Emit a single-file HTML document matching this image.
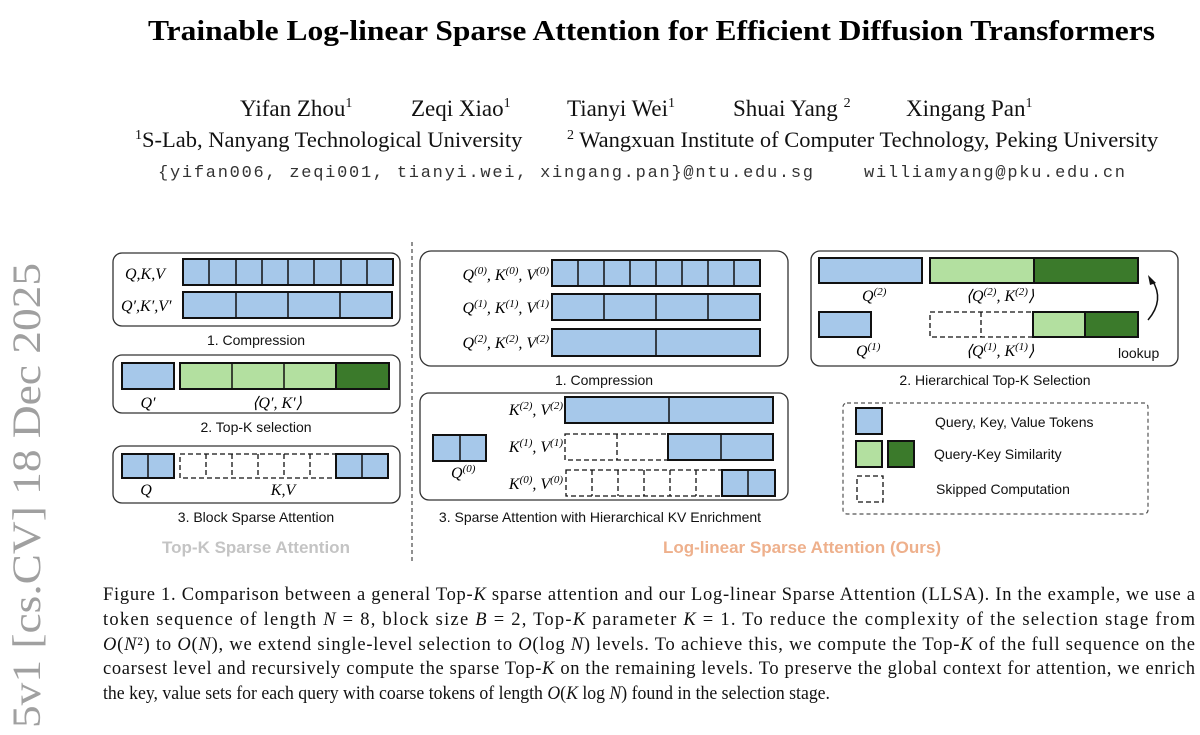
<!DOCTYPE html>
<html><head><meta charset="utf-8"><style>
html,body{margin:0;padding:0;background:#fff;width:1200px;height:735px;overflow:hidden}
svg{display:block}
.s{font-family:"Liberation Serif",serif}
.m{font-family:"Liberation Serif",serif;font-style:italic;font-size:16px}
.a{font-family:"Liberation Sans",sans-serif;font-size:14px;fill:#111}
.b{fill:#a6c8ea;stroke:#111;stroke-width:2}
.d{fill:none;stroke:#111;stroke-width:1.3;stroke-dasharray:5,3}
.l{stroke:#111;stroke-width:1.5}
.bx{fill:#fff;stroke:#333;stroke-width:1.3}
</style></head><body>
<svg width="1200" height="735" viewBox="0 0 1200 735" xmlns="http://www.w3.org/2000/svg">
<text class="s" x="148" y="40" font-size="29" font-weight="bold" textLength="1007" lengthAdjust="spacingAndGlyphs">Trainable Log-linear Sparse Attention for Efficient Diffusion Transformers</text>
<g class="s" font-size="23" fill="#111">
<text x="240" y="116">Yifan Zhou<tspan font-size="14" dy="-9">1</tspan></text>
<text x="411" y="116">Zeqi Xiao<tspan font-size="14" dy="-9">1</tspan></text>
<text x="567" y="116">Tianyi Wei<tspan font-size="14" dy="-9">1</tspan></text>
<text x="733" y="116">Shuai Yang <tspan font-size="14" dy="-9">2</tspan></text>
<text x="906" y="116">Xingang Pan<tspan font-size="14" dy="-9">1</tspan></text>
</g>
<g class="s" font-size="22.5" fill="#111">
<text x="135" y="147"><tspan font-size="14" dy="-8">1</tspan><tspan dy="8">S-Lab, Nanyang Technological University</tspan></text>
<text x="567" y="147"><tspan font-size="14" dy="-8">2</tspan><tspan dy="8"> Wangxuan Institute of Computer Technology, Peking University</tspan></text>
</g>
<g font-family="Liberation Mono,monospace" font-size="17" fill="#333">
<text x="158" y="177" textLength="655">{yifan006, zeqi001, tianyi.wei, xingang.pan}@ntu.edu.sg</text>
<text x="864" y="177" textLength="261">williamyang@pku.edu.cn</text>
</g>
<text class="s" transform="translate(40,728) rotate(-90)" font-size="40" fill="#a0a0a0" textLength="465" lengthAdjust="spacingAndGlyphs">5v1  [cs.CV]  18 Dec 2025</text>

<line x1="412" y1="242" x2="412" y2="562" stroke="#555" stroke-width="1.3" stroke-dasharray="4,3"/>

<rect class="bx" x="113" y="253" width="287" height="73" rx="9"/>
<text class="m" x="125" y="279">Q,K,V</text>
<rect class="b" x="183" y="259" width="210" height="26"/>
<g class="l"><line x1="209" y1="259" x2="209" y2="285"/><line x1="236" y1="259" x2="236" y2="285"/><line x1="262" y1="259" x2="262" y2="285"/><line x1="288" y1="259" x2="288" y2="285"/><line x1="314" y1="259" x2="314" y2="285"/><line x1="341" y1="259" x2="341" y2="285"/><line x1="367" y1="259" x2="367" y2="285"/></g>
<text class="m" x="121" y="311">Q′,K′,V′</text>
<rect class="b" x="183" y="292" width="209" height="26"/>
<g class="l"><line x1="236" y1="292" x2="236" y2="318"/><line x1="288" y1="292" x2="288" y2="318"/><line x1="340" y1="292" x2="340" y2="318"/></g>
<text class="a" x="256" y="345" text-anchor="middle">1. Compression</text>

<rect class="bx" x="113" y="355" width="287" height="58" rx="9"/>
<rect class="b" x="122" y="363" width="52" height="26"/>
<rect x="180" y="363" width="156" height="26" fill="#b3e0a0" stroke="#111" stroke-width="2"/>
<rect x="336" y="363" width="53" height="26" fill="#3b7a2b" stroke="#111" stroke-width="2"/>
<g class="l"><line x1="232" y1="363" x2="232" y2="389"/><line x1="284" y1="363" x2="284" y2="389"/></g>
<text class="m" x="148" y="408" text-anchor="middle">Q′</text>
<text class="m" x="277" y="408" text-anchor="middle">⟨Q′, K′⟩</text>
<text class="a" x="256" y="432" text-anchor="middle">2. Top-K selection</text>

<rect class="bx" x="113" y="446" width="287" height="57" rx="9"/>
<rect class="b" x="122" y="454" width="52" height="24"/><line class="l" x1="148" y1="454" x2="148" y2="478"/>
<rect class="d" x="180" y="454" width="156" height="24"/>
<g class="d"><line x1="206" y1="454" x2="206" y2="478"/><line x1="232" y1="454" x2="232" y2="478"/><line x1="258" y1="454" x2="258" y2="478"/><line x1="284" y1="454" x2="284" y2="478"/><line x1="310" y1="454" x2="310" y2="478"/></g>
<rect class="b" x="336" y="454" width="52" height="24"/><line class="l" x1="362" y1="454" x2="362" y2="478"/>
<text class="m" x="146" y="495" text-anchor="middle">Q</text>
<text class="m" x="283" y="495" text-anchor="middle">K,V</text>
<text class="a" x="256" y="522" text-anchor="middle">3. Block Sparse Attention</text>
<text x="256" y="553" text-anchor="middle" font-family="Liberation Sans,sans-serif" font-weight="bold" font-size="17" fill="#c4c4c4">Top-K Sparse Attention</text>

<rect class="bx" x="420" y="251" width="368" height="115" rx="11"/>
<g class="m" font-size="15" text-anchor="end">
<text x="549" y="280">Q<tspan font-size="11" dy="-6">(0)</tspan><tspan dy="6">, K</tspan><tspan font-size="11" dy="-6">(0)</tspan><tspan dy="6">, V</tspan><tspan font-size="11" dy="-6">(0)</tspan></text>
<text x="549" y="313">Q<tspan font-size="11" dy="-6">(1)</tspan><tspan dy="6">, K</tspan><tspan font-size="11" dy="-6">(1)</tspan><tspan dy="6">, V</tspan><tspan font-size="11" dy="-6">(1)</tspan></text>
<text x="549" y="348">Q<tspan font-size="11" dy="-6">(2)</tspan><tspan dy="6">, K</tspan><tspan font-size="11" dy="-6">(2)</tspan><tspan dy="6">, V</tspan><tspan font-size="11" dy="-6">(2)</tspan></text>
</g>
<rect class="b" x="552" y="260" width="208" height="26"/>
<g class="l"><line x1="578" y1="260" x2="578" y2="286"/><line x1="604" y1="260" x2="604" y2="286"/><line x1="630" y1="260" x2="630" y2="286"/><line x1="656" y1="260" x2="656" y2="286"/><line x1="682" y1="260" x2="682" y2="286"/><line x1="708" y1="260" x2="708" y2="286"/><line x1="734" y1="260" x2="734" y2="286"/></g>
<rect class="b" x="552" y="294" width="208" height="26"/>
<g class="l"><line x1="604" y1="294" x2="604" y2="320"/><line x1="656" y1="294" x2="656" y2="320"/><line x1="708" y1="294" x2="708" y2="320"/></g>
<rect class="b" x="552" y="329" width="208" height="27"/>
<line class="l" x1="656" y1="329" x2="656" y2="356"/>
<text class="a" x="604" y="385" text-anchor="middle">1. Compression</text>

<rect class="bx" x="420" y="393" width="368" height="107" rx="9"/>
<rect class="b" x="433" y="435" width="53" height="26"/><line class="l" x1="460" y1="435" x2="460" y2="461"/>
<text class="m" x="451" y="478" font-size="15">Q<tspan font-size="11" dy="-6">(0)</tspan></text>
<g class="m" font-size="15" text-anchor="end">
<text x="563" y="415">K<tspan font-size="11" dy="-6">(2)</tspan><tspan dy="6">, V</tspan><tspan font-size="11" dy="-6">(2)</tspan></text>
<text x="563" y="452">K<tspan font-size="11" dy="-6">(1)</tspan><tspan dy="6">, V</tspan><tspan font-size="11" dy="-6">(1)</tspan></text>
<text x="563" y="489">K<tspan font-size="11" dy="-6">(0)</tspan><tspan dy="6">, V</tspan><tspan font-size="11" dy="-6">(0)</tspan></text>
</g>
<rect class="b" x="565" y="397" width="208" height="26"/><line class="l" x1="669" y1="397" x2="669" y2="423"/>
<rect class="d" x="565" y="434" width="103" height="26"/><line class="d" x1="617" y1="434" x2="617" y2="460"/>
<rect class="b" x="668" y="434" width="105" height="26"/><line class="l" x1="721" y1="434" x2="721" y2="460"/>
<rect class="d" x="566" y="470" width="156" height="26"/>
<g class="d"><line x1="592" y1="470" x2="592" y2="496"/><line x1="618" y1="470" x2="618" y2="496"/><line x1="644" y1="470" x2="644" y2="496"/><line x1="670" y1="470" x2="670" y2="496"/><line x1="696" y1="470" x2="696" y2="496"/></g>
<rect class="b" x="722" y="470" width="53" height="26"/><line class="l" x1="748" y1="470" x2="748" y2="496"/>
<text class="a" x="600" y="522" text-anchor="middle">3. Sparse Attention with Hierarchical KV Enrichment</text>
<text x="802" y="553" text-anchor="middle" font-family="Liberation Sans,sans-serif" font-weight="bold" font-size="17" fill="#eeb08c">Log-linear Sparse Attention (Ours)</text>

<rect class="bx" x="811" y="251" width="367" height="115" rx="9"/>
<rect class="b" x="819" y="258" width="103" height="25"/>
<rect x="930" y="258" width="104" height="25" fill="#b3e0a0" stroke="#111" stroke-width="2"/>
<rect x="1034" y="258" width="104" height="25" fill="#3b7a2b" stroke="#111" stroke-width="2"/>
<text class="m" x="862" y="301" font-size="15">Q<tspan font-size="11" dy="-6">(2)</tspan></text>
<text class="m" x="1000" y="301" font-size="15" text-anchor="middle">⟨Q<tspan font-size="11" dy="-6">(2)</tspan><tspan dy="6">, K</tspan><tspan font-size="11" dy="-6">(2)</tspan><tspan dy="6">⟩</tspan></text>
<rect class="b" x="819" y="312" width="52" height="25"/>
<rect class="d" x="930" y="312" width="103" height="25"/><line class="d" x1="981" y1="312" x2="981" y2="337"/>
<rect x="1033" y="312" width="52" height="25" fill="#b3e0a0" stroke="#111" stroke-width="2"/>
<rect x="1085" y="312" width="53" height="25" fill="#3b7a2b" stroke="#111" stroke-width="2"/>
<text class="m" x="856" y="356" font-size="15">Q<tspan font-size="11" dy="-6">(1)</tspan></text>
<text class="m" x="1000" y="356" font-size="15" text-anchor="middle">⟨Q<tspan font-size="11" dy="-6">(1)</tspan><tspan dy="6">, K</tspan><tspan font-size="11" dy="-6">(1)</tspan><tspan dy="6">⟩</tspan></text>
<text class="a" x="1118" y="358" font-size="13">lookup</text>
<path d="M1148 320 Q1165 300 1152 280" fill="none" stroke="#111" stroke-width="1.5"/>
<path d="M1148 275 L1156 283 L1150 285 Z" fill="#111"/>
<text class="a" x="995" y="385" text-anchor="middle">2. Hierarchical Top-K Selection</text>

<rect x="843" y="403" width="305" height="111" rx="4" fill="none" stroke="#555" stroke-width="1.2" stroke-dasharray="4,3"/>
<rect class="b" x="856" y="408" width="26" height="26"/>
<text class="a" x="935" y="427" font-size="13">Query, Key, Value Tokens</text>
<rect x="856" y="441" width="26" height="26" fill="#b3e0a0" stroke="#111" stroke-width="2"/>
<rect x="888" y="441" width="26" height="26" fill="#3b7a2b" stroke="#111" stroke-width="2"/>
<text class="a" x="934" y="459" font-size="13">Query-Key Similarity</text>
<rect class="d" x="857" y="476" width="26" height="26"/>
<text class="a" x="936" y="494" font-size="13">Skipped Computation</text>

<g class="s" font-size="18.5" fill="#111">
<text x="103" y="600" textLength="1092" lengthAdjust="spacing">Figure 1. Comparison between a general Top-<tspan font-style="italic">K</tspan> sparse attention and our Log-linear Sparse Attention (LLSA). In the example, we use a</text>
<text x="103" y="625" textLength="1092" lengthAdjust="spacing">token sequence of length <tspan font-style="italic">N</tspan> = 8, block size <tspan font-style="italic">B</tspan> = 2, Top-<tspan font-style="italic">K</tspan> parameter <tspan font-style="italic">K</tspan> = 1. To reduce the complexity of the selection stage from</text>
<text x="103" y="650" textLength="1092" lengthAdjust="spacing"><tspan font-style="italic">O</tspan>(<tspan font-style="italic">N</tspan>²) to <tspan font-style="italic">O</tspan>(<tspan font-style="italic">N</tspan>), we extend single-level selection to <tspan font-style="italic">O</tspan>(log <tspan font-style="italic">N</tspan>) levels. To achieve this, we compute the Top-<tspan font-style="italic">K</tspan> of the full sequence on the</text>
<text x="103" y="674" textLength="1092" lengthAdjust="spacing">coarsest level and recursively compute the sparse Top-<tspan font-style="italic">K</tspan> on the remaining levels. To preserve the global context for attention, we enrich</text>
<text x="103" y="699" textLength="727" lengthAdjust="spacingAndGlyphs">the key, value sets for each query with coarse tokens of length <tspan font-style="italic">O</tspan>(<tspan font-style="italic">K</tspan> log <tspan font-style="italic">N</tspan>) found in the selection stage.</text>
</g>
</svg>
</body></html>
